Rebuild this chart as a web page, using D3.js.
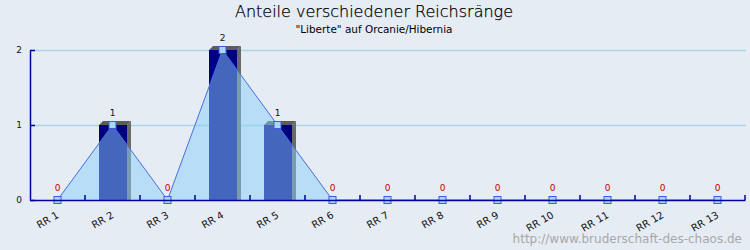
<!DOCTYPE html>
<html>
<head>
<meta charset="utf-8">
<script src="https://cdnjs.cloudflare.com/ajax/libs/d3/7.8.5/d3.min.js"></script>
<style>
  body { margin: 0; background: #e6ecf4; }
  svg { display: block; }
</style>
</head>
<body>
<script>
//Chart data
var categories = ["RR 1", "RR 2", "RR 3", "RR 4", "RR 5", "RR 6", "RR 7",
                  "RR 8", "RR 9", "RR 10", "RR 11", "RR 12", "RR 13"];
var values = [0, 1, 0, 2, 1, 0, 0, 0, 0, 0, 0, 0, 0];
var yTicks = [0, 1, 2];
var titleText = "Anteile verschiedener Reichsränge";
var subtitleText = "\"Liberte\" auf Orcanie/Hibernia";
var watermarkText = "http://www.bruderschaft-des-chaos.de";

var width = 750, height = 250;
var margin = { top: 50, right: 5, bottom: 50, left: 30 };
var depth = 4;

var svg = d3.select("body").append("svg")
  .attr("width", width)
  .attr("height", height);

svg.append("rect")
  .attr("width", width).attr("height", height)
  .attr("fill", "#e6ecf4");

var x = d3.scaleBand()
  .domain(categories)
  .range([margin.left, width - margin.right]);

var y = d3.scaleLinear()
  .domain([0, 2])
  .range([height - margin.bottom, margin.top]);

var data = categories.map(function(c, i) { return { cat: c, value: values[i] }; });
var cx = function(d) { return x(d.cat) + x.bandwidth() / 2; };

//titles
svg.append("text")
  .attr("x", 374).attr("y", 17)
  .attr("text-anchor", "middle")
  .style("font", "300 16px 'DejaVu Sans ExtraLight', 'DejaVu Sans', sans-serif")
  .attr("fill", "#000")
  .attr("stroke", "#000")
  .attr("stroke-width", 0.25)
  .text(titleText);

svg.append("text")
  .attr("x", 374).attr("y", 33)
  .attr("text-anchor", "middle")
  .attr("textLength", 157)
  .attr("lengthAdjust", "spacingAndGlyphs")
  .style("font", "11px 'DejaVu Sans Condensed', 'DejaVu Sans', sans-serif")
  .style("font-stretch", "condensed")
  .attr("fill", "#000")
  .text(subtitleText);

//grid lines
svg.append("g").selectAll("line")
  .data(yTicks.filter(function(t) { return t > 0; }))
  .enter().append("line")
  .attr("x1", margin.left).attr("x2", width - margin.right + 1)
  .attr("y1", function(d) { return y(d) + 0.5; })
  .attr("y2", function(d) { return y(d) + 0.5; })
  .attr("stroke", "#a6d6ea")
  .attr("stroke-width", 1.5);

//3D bars
var bw = 28;
var bars = svg.append("g").selectAll("g")
  .data(data.filter(function(d) { return d.value > 0; }))
  .enter().append("g");

bars.append("polygon")
  .attr("points", function(d) {
    var x0 = cx(d) - bw / 2 + 0.5, x1 = x0 + bw, yt = y(d.value), yb = y(0);
    return [[x1, yt], [x1 + depth, yt - depth], [x1 + depth, yb], [x1, yb]].join(" ");
  })
  .attr("fill", "#6a6a66");

bars.append("polygon")
  .attr("points", function(d) {
    var x0 = cx(d) - bw / 2 + 0.5, x1 = x0 + bw, yt = y(d.value);
    return [[x0, yt], [x0 + depth, yt - depth], [x1 + depth, yt - depth], [x1, yt]].join(" ");
  })
  .attr("fill", "#5c5c5c");

bars.append("rect")
  .attr("x", function(d) { return cx(d) - bw / 2 + 0.5; })
  .attr("y", function(d) { return y(d.value); })
  .attr("width", bw)
  .attr("height", function(d) { return y(0) - y(d.value); })
  .attr("fill", "#000080");

//area
var area = d3.area()
  .x(cx)
  .y0(y(0))
  .y1(function(d) { return y(d.value); });

svg.append("path")
  .datum(data)
  .attr("d", area)
  .attr("fill", "#87cefa")
  .attr("fill-opacity", 0.5);

var line = d3.line()
  .x(cx)
  .y(function(d) { return y(d.value); });

svg.append("path")
  .datum(data)
  .attr("d", line)
  .attr("fill", "none")
  .attr("stroke", "#4a6ee0")
  .attr("stroke-width", 1);

//markers
svg.append("g").selectAll("rect")
  .data(data)
  .enter().append("rect")
  .attr("x", function(d) { return cx(d) - 3.5; })
  .attr("y", function(d) { return y(d.value) - 3.5; })
  .attr("width", 7).attr("height", 7)
  .attr("fill", "#a9d6f2")
  .attr("stroke", "#3b5ce8")
  .attr("stroke-width", 1);

//y axis
var yAxis = svg.append("g")
  .attr("transform", "translate(" + margin.left + ",0)")
  .call(d3.axisLeft(y).tickValues(yTicks).tickSize(-5).tickSizeOuter(0).tickPadding(8)
    .tickFormat(d3.format("d")));
yAxis.select(".domain").attr("stroke", "#0000a0").attr("stroke-width", 1.5);
yAxis.selectAll(".tick line").attr("stroke", "#0000a0").attr("stroke-width", 1.5);
yAxis.selectAll("text")
  .style("font", "9px 'DejaVu Sans', sans-serif")
  .attr("fill", "#111");

//x axis
var xAxis = svg.append("g")
  .attr("transform", "translate(0," + y(0) + ")")
  .call(d3.axisBottom(x).tickSize(0).tickSizeOuter(0).tickPadding(0));
xAxis.select(".domain")
  .attr("stroke", "#0000a0").attr("stroke-width", 1.5);
xAxis.selectAll(".tick text")
  .attr("text-anchor", "end")
  .attr("dy", 0)
  .attr("transform", "translate(2,17) rotate(-30)")
  .style("font", "10px 'DejaVu Sans', sans-serif")
  .attr("fill", "#111");

//tick marks at the band boundaries
xAxis.selectAll(".bound")
  .data(categories)
  .enter().append("line")
  .attr("class", "bound")
  .attr("x1", function(d) { return x(d) + x.bandwidth(); })
  .attr("x2", function(d) { return x(d) + x.bandwidth(); })
  .attr("y1", 0).attr("y2", -5)
  .attr("stroke", "#0000a0")
  .attr("stroke-width", 1.5);

//value labels
svg.append("g").selectAll("text")
  .data(data)
  .enter().append("text")
  .attr("x", cx)
  .attr("y", function(d) { return y(d.value) - 9; })
  .attr("text-anchor", "middle")
  .style("font", "9px 'DejaVu Sans', sans-serif")
  .attr("fill", function(d) { return d.value === 0 ? "#c00000" : "#111"; })
  .text(function(d) { return d.value; });

//watermark
svg.append("text")
  .attr("x", 742).attr("y", 243)
  .attr("text-anchor", "end")
  .style("font", "12px 'DejaVu Sans', sans-serif")
  .attr("fill", "#a8a8a8")
  .text(watermarkText);
</script>
</body>
</html>
